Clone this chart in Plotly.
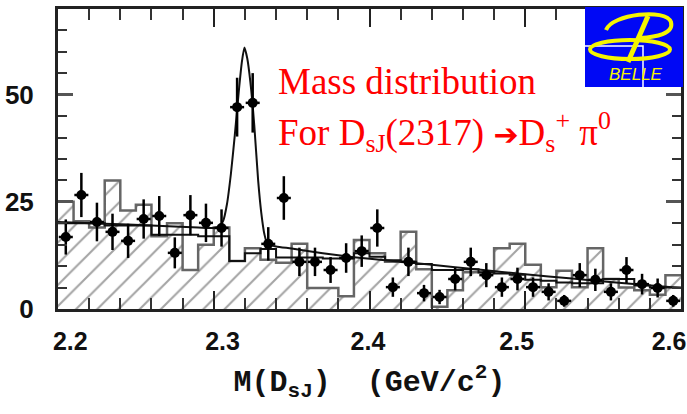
import plotly.graph_objects as go
import numpy as np

# ---------------- data ----------------
mass_bins = [2.205, 2.215, 2.225, 2.235, 2.245, 2.255, 2.265, 2.275, 2.285, 2.295,
             2.305, 2.315, 2.325, 2.335, 2.345, 2.355, 2.365, 2.375, 2.385, 2.395,
             2.405, 2.415, 2.425, 2.435, 2.445, 2.455, 2.465, 2.475, 2.485, 2.495,
             2.505, 2.515, 2.525, 2.535, 2.545, 2.555, 2.565, 2.575, 2.585, 2.595]

data_counts = [16.8, 26.6, 20.3, 18.0, 15.9, 21.0, 21.7, 13.1, 21.9, 20.1,
               18.9, 47.1, 48.1, 15.2, 25.9, 11.0, 11.0, 9.1, 11.9, 13.5,
               18.9, 5.1, 11.0, 3.7, 2.8, 7.0, 11.0, 7.9, 5.1, 7.0,
               5.1, 4.0, 1.9, 7.9, 6.8, 4.0, 9.1, 5.8, 4.9, 1.9]

hatched_hist = [25.0, 20.5, 19.0, 30.0, 23.0, 24.3, 17.0, 20.0, 9.1, 15.0,
                19.0, 11.2, 14.2, 11.5, 10.8, 15.2, 4.9, 4.9, 3.0, 16.1,
                13.0, 11.0, 18.0, 9.3, 0.5, 4.4, 8.6, 8.6, 14.2, 15.2,
                10.3, 5.1, 8.9, 5.1, 14.2, 7.0, 5.0, 4.4, 3.3, 7.9]

open_hist = [20.0, 20.0, 20.0, 19.5, 19.5, 19.5, 17.3, 17.3, 17.3, 17.0,
             17.0, 11.2, 13.0, 14.0, 12.0, 12.0, 12.0, 11.8, 11.8, 13.0,
             12.2, 11.4, 11.0, 10.5, 9.1, 9.1, 9.3, 8.5, 8.3, 8.0,
             6.8, 6.6, 6.2, 6.0, 6.0, 7.0, 7.0, 5.5, 5.0, 5.0]

fit_x = [2.200, 2.230, 2.260, 2.290, 2.300, 2.3035, 2.3060, 2.3085, 2.3110, 2.3135,
         2.3160, 2.3180, 2.3197, 2.3215, 2.3235, 2.3260, 2.3285, 2.3305, 2.3325, 2.3345,
         2.3400, 2.3500, 2.3700, 2.3900, 2.4100, 2.4400, 2.4700, 2.5000, 2.5300, 2.5600,
         2.6000]
fit_y = [20.3, 19.9, 19.5, 19.0, 18.9, 19.3, 20.5, 24.5, 31.5, 40.5,
         50.5, 57.5, 61.0, 58.5, 53.0, 43.0, 30.0, 22.5, 17.5, 15.2,
         14.6, 14.1, 13.0, 12.1, 11.4, 10.3, 9.2, 8.1, 7.1, 6.1,
         4.9]

NB = "\u00a0"
x_ticks = [2.2, 2.3, 2.4, 2.5, 2.6]
# labels in the scan sit slightly off their ticks; pad with spaces to mimic
x_ticktext = [NB * 7 + "2.2", NB * 6 + "2.3", NB * 3 + "2.4", NB + "2.5", "2.6"]
y_ticks = [0, 25, 50]
y_ticktext = ["0", "25", "50"]

BIN_HALF = 0.005

# ---------------- geometry helpers (decoration only) ----------------
L, R, T, B = 58, 6, 9, 105
W, H = 687, 414
PW, PH = W - L - R, H - T - B


def px(xp):
    return (xp - L) / PW


def py(yp):
    return (T + PH - yp) / PH


edges_x = [c - BIN_HALF for c in mass_bins] + [mass_bins[-1] + BIN_HALF]


def step_y(v):
    return list(v) + [v[-1]]


fig = go.Figure()

# hatched histogram
fig.add_trace(go.Scatter(
    x=edges_x, y=step_y(hatched_hist), mode="lines",
    line=dict(shape="hv", color="#666666", width=2.5),
    fill="tozeroy", fillcolor="rgba(255,255,255,0)",
    fillpattern=dict(shape="/", size=15, solidity=0.14,
                     fgcolor="#4a4a4a", bgcolor="rgba(255,255,255,0)"),
    hoverinfo="skip", showlegend=False))

# open histogram
fig.add_trace(go.Scatter(
    x=edges_x, y=step_y(open_hist), mode="lines",
    line=dict(shape="hv", color="#111111", width=2),
    hoverinfo="skip", showlegend=False))

# fit curve
fig.add_trace(go.Scatter(
    x=fit_x, y=fit_y, mode="lines",
    line=dict(shape="spline", smoothing=0.6, color="#111111", width=2),
    hoverinfo="skip", showlegend=False))

# data points
fig.add_trace(go.Scatter(
    x=mass_bins, y=data_counts, mode="markers",
    marker=dict(color="black", size=10, symbol="circle"),
    error_y=dict(type="data", array=list(np.sqrt(data_counts)),
                 color="black", thickness=2.5, width=0),
    error_x=dict(type="constant", value=0.0045, color="black",
                 thickness=2.5, width=0),
    showlegend=False))

tickfont = dict(family="Liberation Sans, Arial, sans-serif", size=26,
                color="#111111", weight="bold")
xtickfont = dict(family="Liberation Sans, Arial, sans-serif", size=25,
                 color="#111111", weight="bold")

fig.update_xaxes(
    range=[2.2, 2.6], tickvals=x_ticks, ticktext=x_ticktext,
    ticks="inside", ticklen=18, tickwidth=2, tickcolor="#222222",
    minor=dict(tick0=2.2, dtick=0.02, ticks="inside", ticklen=11,
               tickwidth=2, tickcolor="#333333"),
    showline=True, linewidth=3, linecolor="#222222", mirror="ticks",
    showgrid=False, zeroline=False, tickfont=xtickfont,
    ticklabeloverflow="allow", ticklabelstandoff=8, ticklabelshift=-12,
    title=dict(text="M(D<sub>sJ</sub>)&nbsp;&nbsp;(GeV/c<sup>2</sup>)",
               font=dict(family="Liberation Mono, Courier New, monospace",
                         size=30, color="#111111", weight="bold"),
               standoff=16),
)
fig.update_yaxes(
    range=[0, 70], tickvals=y_ticks, ticktext=y_ticktext,
    ticks="inside", ticklen=15, tickwidth=3, tickcolor="#555555",
    minor=dict(tick0=0, dtick=5, ticks="inside", ticklen=9,
               tickwidth=2, tickcolor="#333333"),
    showline=True, linewidth=3, linecolor="#222222", mirror="ticks",
    showgrid=False, zeroline=False, tickfont=tickfont,
    ticklabelstandoff=16,
)

red_font = dict(family="Liberation Serif, Times New Roman, serif", size=37,
                color="#ff0000")
arrow = "<span style='font-family:DejaVu Sans;font-size:30px'>➔</span>"
annotations = [
    dict(text="Mass distribution", xref="paper", yref="paper",
         x=px(276), y=py(82), xanchor="left", yanchor="middle",
         showarrow=False, font=red_font),
    dict(text=f"For D<sub>sJ</sub>(2317) {arrow}D<sub>s</sub><sup>+</sup> π<sup>0</sup>",
         xref="paper", yref="paper",
         x=px(276), y=py(132), xanchor="left", yanchor="middle",
         showarrow=False, font=red_font),
    dict(text="<i>BELLE</i>", xref="paper", yref="paper",
         x=px(636), y=py(75), xanchor="center", yanchor="middle",
         showarrow=False,
         font=dict(family="Liberation Sans, Arial, sans-serif", size=17,
                   color="#f5f500")),
]

yellow = "#f5f500"
shapes = [
    # logo background
    dict(type="rect", xref="paper", yref="paper", layer="above",
         x0=px(585), x1=px(683), y0=py(87), y1=py(7),
         fillcolor="#0008f5", line=dict(width=0)),
    # white text-box edge crossing the logo
    dict(type="path", xref="paper", yref="paper", layer="above",
         path=f"M {px(585)} {py(46)} L {px(643)} {py(46)} L {px(643)} {py(87)}",
         line=dict(color="white", width=1.5)),
    # lower ellipse of the B
    dict(type="circle", xref="paper", yref="paper", layer="above",
         x0=px(590), x1=px(670), y0=py(59), y1=py(40),
         line=dict(color=yellow, width=4)),
    # upper bowl of the B
    dict(type="path", xref="paper", yref="paper", layer="above",
         path=(f"M {px(606)} {py(30)} C {px(612)} {py(14)} {px(666)} {py(8)} "
               f"{px(671)} {py(22)} C {px(674)} {py(34)} {px(656)} {py(37)} "
               f"{px(640)} {py(38)}"),
         line=dict(color=yellow, width=4)),
    # stem of the B
    dict(type="line", xref="paper", yref="paper", layer="above",
         x0=px(648), y0=py(16), x1=px(628), y1=py(62),
         line=dict(color=yellow, width=5)),
]

fig.update_layout(
    width=W, height=H,
    margin=dict(l=L, r=R, t=T, b=B, autoexpand=False),
    paper_bgcolor="white", plot_bgcolor="white",
    annotations=annotations, shapes=shapes,
    showlegend=False,
)

fig.write_html("out.html")
